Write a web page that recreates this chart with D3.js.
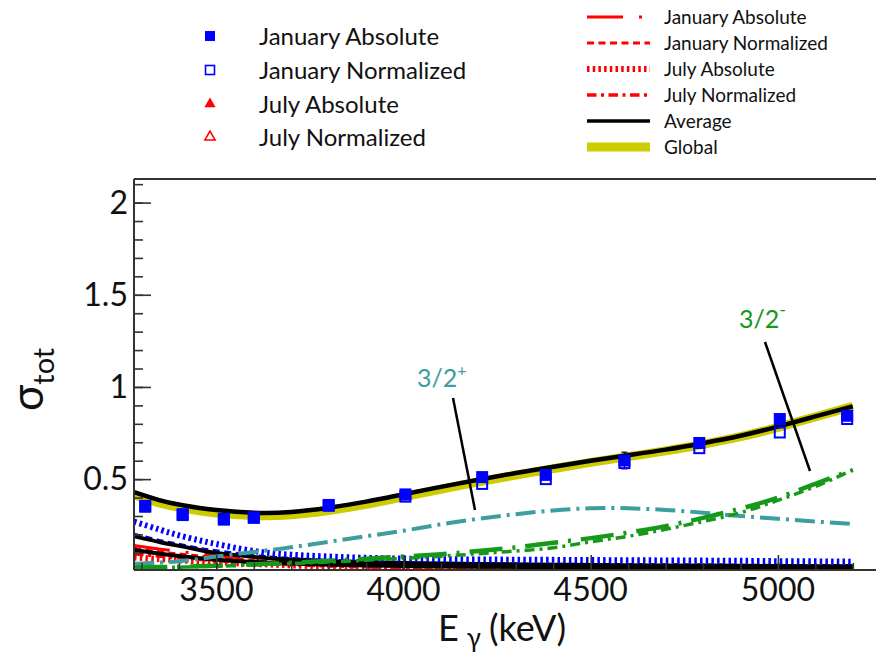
<!DOCTYPE html>
<html>
<head>
<meta charset="utf-8">
<script src="https://cdn.jsdelivr.net/npm/d3@7"></script>
<style>
  html, body { margin: 0; padding: 0; background: #fff; }
  svg { display: block; }
  text { font-family: Lato, "Open Sans", sans-serif; fill: #111; }
</style>
</head>
<body>
<svg id="chart" width="876" height="653"></svg>
<script>
// ---- measured cross-section points (energy in keV) ----
const energies = [3310, 3410, 3520, 3600, 3800, 4005, 4210, 4380, 4590, 4790, 5005, 5185];
const janAbsolute   = [0.355, 0.310, 0.284, 0.293, 0.360, 0.417, 0.511, 0.523, 0.601, 0.696, 0.826, 0.844];
const janAbsErr     = [0.010, 0.010, 0.010, 0.010, 0.010, 0.010, 0.010, 0.010, 0.045, 0.010, 0.020, 0.010];
const janNormalized = [0.350, 0.305, 0.280, 0.290, 0.355, 0.405, 0.474, 0.500, 0.587, 0.668, 0.753, 0.826];

// ---- fitted curves, sampled along the energy grid ----
const curveE = [3280, 3350, 3400, 3450, 3500, 3600, 3700, 3800, 3900, 4000, 4100, 4200,
                4300, 4400, 4500, 4600, 4700, 4800, 4900, 5000, 5100, 5200];
const average   = [0.430, 0.385, 0.362, 0.345, 0.332, 0.318, 0.322, 0.345, 0.378, 0.418, 0.458, 0.497,
                   0.533, 0.567, 0.600, 0.630, 0.660, 0.695, 0.735, 0.785, 0.840, 0.895];
const globalFit = [0.415, 0.370, 0.347, 0.330, 0.316, 0.303, 0.307, 0.330, 0.363, 0.404, 0.445, 0.485,
                   0.522, 0.557, 0.591, 0.622, 0.653, 0.689, 0.730, 0.781, 0.838, 0.895];
const plusState = [0.040, 0.048, 0.055, 0.066, 0.080, 0.105, 0.130, 0.160, 0.190, 0.220, 0.255, 0.285,
                   0.310, 0.330, 0.342, 0.342, 0.333, 0.318, 0.300, 0.285, 0.270, 0.257];
const minusA    = [0.020, 0.023, 0.025, 0.027, 0.030, 0.038, 0.047, 0.057, 0.068, 0.080, 0.093, 0.110,
                   0.130, 0.155, 0.180, 0.210, 0.245, 0.290, 0.340, 0.400, 0.475, 0.550];
const minusB    = [0.018, 0.020, 0.022, 0.025, 0.028, 0.034, 0.042, 0.050, 0.060, 0.070, 0.082, 0.095,
                   0.110, 0.128, 0.160, 0.190, 0.228, 0.270, 0.318, 0.385, 0.460, 0.550];
const blueDotted = [0.270, 0.225, 0.195, 0.170, 0.148, 0.110, 0.090, 0.080, 0.073, 0.069, 0.066, 0.064,
                   0.063, 0.062, 0.061, 0.060, 0.059, 0.058, 0.057, 0.055, 0.054, 0.052];
const blueDashed = [0.200, 0.165, 0.145, 0.125, 0.110, 0.085, 0.068, 0.058, 0.050, 0.045, 0.042, 0.040,
                   0.038, 0.037, 0.036, 0.035, 0.034, 0.033, 0.032, 0.031, 0.030, 0.030];
const blackLow1 = [0.190, 0.158, 0.138, 0.118, 0.100, 0.078, 0.064, 0.055, 0.049, 0.045, 0.042, 0.040,
                   0.038, 0.036, 0.034, 0.033, 0.032, 0.031, 0.030, 0.029, 0.028, 0.028];
const blackLow2 = [0.115, 0.095, 0.083, 0.072, 0.063, 0.050, 0.042, 0.036, 0.032, 0.029, 0.027, 0.025,
                   0.024, 0.023, 0.022, 0.021, 0.021, 0.020, 0.020, 0.019, 0.019, 0.018];
const redJanAbs = [0.140, 0.120, 0.108, 0.096, 0.085, 0.065, 0.050, 0.040, 0.034, 0.030, 0.027, 0.025,
                   0.023, 0.021, 0.020, 0.019, 0.018, 0.017, 0.016, 0.016, 0.015, 0.015];
const redJanNorm = [0.125, 0.105, 0.094, 0.084, 0.075, 0.058, 0.045, 0.036, 0.030, 0.026, 0.024, 0.022,
                   0.020, 0.019, 0.018, 0.017, 0.016, 0.015, 0.015, 0.014, 0.014, 0.013];
const redJulAbs = [0.075, 0.066, 0.060, 0.054, 0.048, 0.040, 0.032, 0.026, 0.022, 0.019, 0.017, 0.015,
                   0.014, 0.013, 0.012, 0.012, 0.011, 0.011, 0.010, 0.010, 0.010, 0.010];
const redJulNorm = [0.095, 0.082, 0.074, 0.066, 0.058, 0.046, 0.036, 0.029, 0.024, 0.020, 0.018, 0.016,
                   0.015, 0.014, 0.013, 0.013, 0.012, 0.012, 0.011, 0.011, 0.011, 0.011];
const baseline = 0.008;

const xTicks = [3500, 4000, 4500, 5000];
const yTicks = [0.5, 1, 1.5, 2];

const markerLegend = ["January Absolute", "January Normalized", "July Absolute", "July Normalized"];
const lineLegend = ["January Absolute", "January Normalized", "July Absolute", "July Normalized", "Average", "Global"];

// ---- layout ----
const svg = d3.select("#chart");
const frame = { left: 134, top: 179, right: 876, bottom: 570 };

const x = d3.scaleLinear().domain([3280, 5262]).range([frame.left, frame.right]);
const y = d3.scaleLinear().domain([0, 2.128]).range([571.3, frame.top]);

const RED = "#ff0000", BLUE = "#0000ff", GREEN = "#16991a", TEAL = "#3c9e9e", OLIVE = "#cccc00";

// dash styles shared by plot and legend
const styles = {
  janAbs:  { color: RED, width: 3, dash: "36,16,3,16" },
  janNorm: { color: RED, width: 3, dash: "7,4.5" },
  julAbs:  { color: RED, width: 6, dash: "2.5,3.2" },
  julNorm: { color: RED, width: 3.5, dash: "9.5,4.5,3,4.5" },
  average: { color: "#000", width: 3.5, dash: null },
  global:  { color: OLIVE, width: 9, dash: null }
};

svg.append("defs").append("clipPath").attr("id", "plotClip")
  .append("rect")
  .attr("x", frame.left).attr("y", frame.top)
  .attr("width", frame.right - frame.left).attr("height", frame.bottom - frame.top);

const plot = svg.append("g").attr("clip-path", "url(#plotClip)");

const line = d3.line().x(d => x(d[0])).y(d => y(d[1])).curve(d3.curveNatural);
function drawCurve(values, color, width, dash) {
  plot.append("path")
    .datum(curveE.map((e, i) => [e, values[i]]))
    .attr("d", line)
    .attr("fill", "none")
    .attr("stroke", color)
    .attr("stroke-width", width)
    .attr("stroke-dasharray", dash)
    .attr("stroke-linejoin", "round");
}

// baseline red trace along the bottom edge
plot.append("line")
  .attr("x1", frame.left).attr("x2", frame.right)
  .attr("y1", y(baseline)).attr("y2", y(baseline))
  .attr("stroke", RED).attr("stroke-width", 1.5);

// low-lying components
drawCurve(redJulAbs, RED, 6, "2.5,3.2");
drawCurve(redJulNorm, RED, 3.5, "9.5,4.5,3,4.5");
drawCurve(redJanNorm, RED, 3, "7,4.5");
drawCurve(redJanAbs, RED, 3, "36,16,3,16");
drawCurve(blackLow2, "#000", 4, null);
drawCurve(blueDashed, BLUE, 3.5, "7,4.5");
drawCurve(blackLow1, "#000", 4, null);
drawCurve(blueDotted, BLUE, 6, "2.5,3.2");

// resonance contributions
drawCurve(plusState, TEAL, 4, "20,6,3,6");
drawCurve(minusB, GREEN, 3.5, "10,5,3,5");
drawCurve(minusA, GREEN, 4.5, "33,10,3,10");

// total fits
drawCurve(globalFit, OLIVE, 9, null);
drawCurve(average, "#000", 4.5, null);

// error bars for the absolute January points
const errG = plot.append("g");
energies.forEach((e, i) => {
  const lo = y(janAbsolute[i] - janAbsErr[i]), hi = y(janAbsolute[i] + janAbsErr[i]);
  errG.append("line").attr("x1", x(e)).attr("x2", x(e)).attr("y1", lo).attr("y2", hi)
    .attr("stroke", "#000").attr("stroke-width", 1.2);
  [lo, hi].forEach(v => errG.append("line")
    .attr("x1", x(e) - 3).attr("x2", x(e) + 3).attr("y1", v).attr("y2", v)
    .attr("stroke", "#000").attr("stroke-width", 1.2));
});

// normalized (open) and absolute (filled) January points
const S = 12;
plot.selectAll("rect.norm").data(energies.map((e, i) => [e, janNormalized[i]])).join("rect")
  .attr("class", "norm")
  .attr("x", d => x(d[0]) - S / 2 + 1).attr("y", d => y(d[1]) - S / 2 + 1)
  .attr("width", S - 2).attr("height", S - 2)
  .attr("fill", "none").attr("stroke", BLUE).attr("stroke-width", 2);
plot.selectAll("rect.abs").data(energies.map((e, i) => [e, janAbsolute[i]])).join("rect")
  .attr("class", "abs")
  .attr("x", d => x(d[0]) - S / 2).attr("y", d => y(d[1]) - S / 2)
  .attr("width", S).attr("height", S)
  .attr("fill", BLUE);

// ---- annotations ----
svg.append("line").attr("x1", 453).attr("y1", 398).attr("x2", 475).attr("y2", 510)
  .attr("stroke", "#000").attr("stroke-width", 2.5);
svg.append("line").attr("x1", 765).attr("y1", 342).attr("x2", 810).attr("y2", 471)
  .attr("stroke", "#000").attr("stroke-width", 2.5);

const plusLabel = svg.append("text").attr("x", 417).attr("y", 387)
  .style("font-size", "25px").style("fill", TEAL);
plusLabel.append("tspan").text("3/2");
plusLabel.append("tspan").attr("dy", -11).style("font-size", "16px").text("+");

const minusLabel = svg.append("text").attr("x", 739).attr("y", 328)
  .style("font-size", "25px").style("fill", GREEN);
minusLabel.append("tspan").text("3/2");
minusLabel.append("tspan").attr("dy", -12).style("font-size", "18px").text("-");

// ---- frame and axes ----
const axisColor = "#333";
svg.append("line").attr("x1", frame.left).attr("x2", frame.right).attr("y1", frame.top).attr("y2", frame.top)
  .attr("stroke", axisColor).attr("stroke-width", 2);
svg.append("line").attr("x1", frame.left).attr("x2", frame.right).attr("y1", frame.bottom).attr("y2", frame.bottom)
  .attr("stroke", axisColor).attr("stroke-width", 2);
svg.append("line").attr("x1", frame.left).attr("x2", frame.left).attr("y1", frame.top).attr("y2", frame.bottom)
  .attr("stroke", axisColor).attr("stroke-width", 2);

// y axis: major every 0.5, minor every 0.1, ticks pointing into the frame
const yAxisMajor = d3.axisRight(y).tickValues(yTicks).tickSize(17).tickFormat("");
const yAxisMinor = d3.axisRight(y).tickValues(d3.range(0.1, 2.11, 0.1)).tickSize(9).tickFormat("");
[yAxisMinor, yAxisMajor].forEach(ax => {
  const g = svg.append("g").attr("transform", `translate(${frame.left},0)`).call(ax);
  g.select(".domain").remove();
  g.selectAll("line").attr("stroke", axisColor).attr("stroke-width", 1.6);
});
svg.append("g").selectAll("text").data(yTicks).join("text")
  .attr("x", 128).attr("y", d => y(d) + 11)
  .attr("text-anchor", "end").style("font-size", "32px")
  .text(d => d3.format("")(d));

// x axis: major every 500, minor every 100
const xAxisMajor = d3.axisTop(x).tickValues(xTicks).tickSize(15).tickFormat("");
const xAxisMinor = d3.axisTop(x).tickValues(d3.range(3300, 5300, 100)).tickSize(7).tickFormat("");
[xAxisMinor, xAxisMajor].forEach(ax => {
  const g = svg.append("g").attr("transform", `translate(0,${frame.bottom})`).call(ax);
  g.select(".domain").remove();
  g.selectAll("line").attr("stroke", axisColor).attr("stroke-width", 1.6);
});
svg.append("g").selectAll("text").data(xTicks).join("text")
  .attr("x", d => x(d)).attr("y", 601)
  .attr("text-anchor", "middle").style("font-size", "32px")
  .text(d => d);

// axis titles
const xTitle = svg.append("text").attr("x", 438).attr("y", 641).style("font-size", "36px");
xTitle.append("tspan").text("E");
xTitle.append("tspan").attr("dx", 8).attr("dy", 6).style("font-size", "26px").text("γ");
xTitle.append("tspan").attr("dx", 8).attr("dy", -6).text("(keV)");

const yTitle = svg.append("text").attr("transform", "translate(43,411) rotate(-90)").style("font-size", "44px");
yTitle.append("tspan").text("σ");
yTitle.append("tspan").attr("dy", 11).style("font-size", "29px").text("tot");

// ---- marker legend ----
const mLeg = svg.append("g");
const mRowY = [36, 70, 104, 137];
markerLegend.forEach((name, i) => {
  const cy = mRowY[i], cx = 210;
  if (i === 0) mLeg.append("rect").attr("x", cx - 5).attr("y", cy - 5).attr("width", 10).attr("height", 10).attr("fill", BLUE);
  if (i === 1) mLeg.append("rect").attr("x", cx - 4.5).attr("y", cy - 4.5).attr("width", 9).attr("height", 9)
    .attr("fill", "none").attr("stroke", BLUE).attr("stroke-width", 1.6);
  const tri = d3.symbol().type(d3.symbolTriangle).size(55)();
  if (i === 2) mLeg.append("path").attr("d", tri).attr("transform", `translate(${cx},${cy})`).attr("fill", RED);
  if (i === 3) mLeg.append("path").attr("d", d3.symbol().type(d3.symbolTriangle).size(45)())
    .attr("transform", `translate(${cx},${cy})`).attr("fill", "none").attr("stroke", RED).attr("stroke-width", 1.6);
  mLeg.append("text").attr("x", 259).attr("y", cy + 8.5).style("font-size", "24px").text(name);
});

// ---- line legend ----
const lLeg = svg.append("g");
const lRowY = [17, 43, 69, 95, 121, 147];
const lStyles = [styles.janAbs, styles.janNorm, styles.julAbs, styles.julNorm, styles.average, styles.global];
lineLegend.forEach((name, i) => {
  const st = lStyles[i], cy = lRowY[i];
  lLeg.append("line").attr("x1", 587).attr("x2", 650).attr("y1", cy).attr("y2", cy)
    .attr("stroke", st.color).attr("stroke-width", st.width).attr("stroke-dasharray", st.dash);
  lLeg.append("text").attr("x", 664).attr("y", cy + 7).style("font-size", "19px").text(name);
});
</script>
</body>
</html>
